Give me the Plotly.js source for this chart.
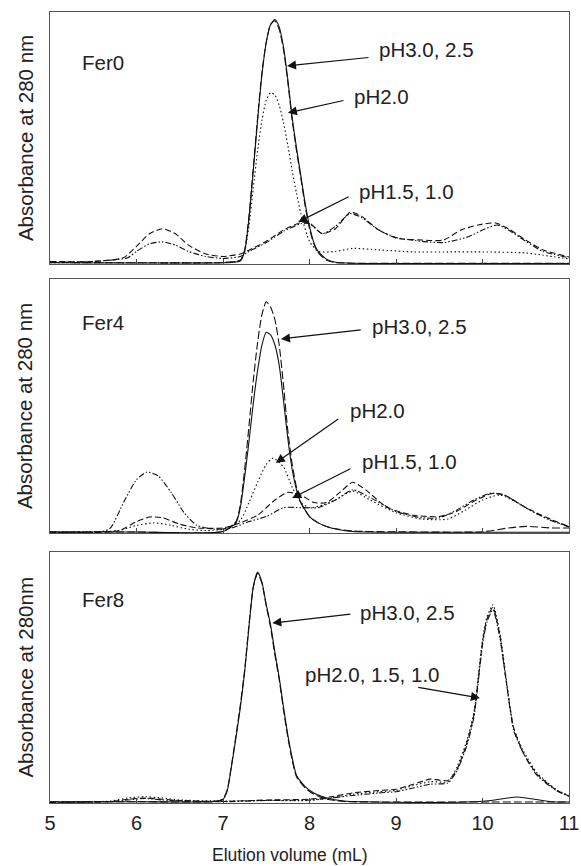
<!DOCTYPE html>
<html>
<head>
<meta charset="utf-8">
<script src="https://cdn.plot.ly/plotly-3.0.1.min.js"></script>
<style>html,body{margin:0;padding:0;background:#fff;}#chart{width:581px;height:866px;}</style>
</head>
<body>
<div id="chart"></div>
<script>
// ---------- Data (elution volume mL, relative absorbance) ----------
// Fer0
const f0_ph30_x = [5.0, 6.0, 7.0, 7.2, 7.25, 7.3, 7.35, 7.4, 7.45, 7.5, 7.55, 7.6, 7.65, 7.7, 7.75, 7.8, 7.85, 7.9, 7.95, 8.0, 8.05, 8.1, 8.2, 8.3, 8.5, 9.0, 10.0, 11.0];
const f0_ph30_y = [0.005, 0.004, 0.005, 0.012, 0.05, 0.18, 0.37, 0.57, 0.75, 0.88, 0.95, 0.97, 0.94, 0.86, 0.73, 0.58, 0.46, 0.35, 0.24, 0.15, 0.085, 0.05, 0.018, 0.007, 0.003, 0.002, 0.002, 0.002];
const f0_ph25_y = [0.006, 0.005, 0.006, 0.015, 0.055, 0.19, 0.38, 0.58, 0.76, 0.88, 0.95, 0.965, 0.93, 0.85, 0.72, 0.57, 0.45, 0.34, 0.23, 0.14, 0.08, 0.045, 0.015, 0.006, 0.003, 0.003, 0.003, 0.003];
const f0_ph20_x = [5.0, 6.0, 7.0, 7.2, 7.25, 7.3, 7.35, 7.4, 7.45, 7.5, 7.55, 7.6, 7.65, 7.7, 7.75, 7.8, 7.85, 7.9, 8.0, 8.1, 8.3, 8.5, 8.8, 9.2, 9.6, 10.0, 10.5, 10.7, 11.0];
const f0_ph20_y = [0.005, 0.005, 0.006, 0.015, 0.05, 0.15, 0.3, 0.45, 0.57, 0.65, 0.68, 0.67, 0.63, 0.56, 0.47, 0.37, 0.28, 0.2, 0.09, 0.05, 0.05, 0.062, 0.056, 0.048, 0.048, 0.048, 0.044, 0.035, 0.02];
const f0_ph15_x = [5.0, 5.5, 5.85, 6.0, 6.15, 6.3, 6.45, 6.6, 6.8, 7.0, 7.2, 7.3, 7.5, 7.7, 7.9, 8.0, 8.15, 8.3, 8.47, 8.6, 8.8, 9.0, 9.3, 9.55, 9.75, 9.95, 10.15, 10.3, 10.5, 10.7, 11.0];
const f0_ph15_y = [0.01, 0.01, 0.025, 0.07, 0.12, 0.14, 0.12, 0.075, 0.04, 0.03, 0.04, 0.055, 0.09, 0.135, 0.165, 0.163, 0.12, 0.14, 0.206, 0.19, 0.135, 0.103, 0.095, 0.095, 0.135, 0.155, 0.163, 0.14, 0.095, 0.056, 0.028];
const f0_ph10_x = [5.0, 5.5, 5.9, 6.0, 6.15, 6.3, 6.45, 6.6, 6.8, 7.0, 7.2, 7.3, 7.5, 7.7, 7.9, 8.0, 8.15, 8.3, 8.47, 8.6, 8.8, 9.0, 9.3, 9.55, 9.7, 9.85, 10.0, 10.17, 10.3, 10.5, 10.7, 11.0];
const f0_ph10_y = [0.008, 0.01, 0.025, 0.05, 0.08, 0.088, 0.075, 0.05, 0.03, 0.022, 0.03, 0.05, 0.085, 0.13, 0.16, 0.16, 0.12, 0.15, 0.2, 0.185, 0.135, 0.105, 0.09, 0.085, 0.095, 0.11, 0.135, 0.155, 0.135, 0.09, 0.05, 0.025];

// Fer4
const f4_ph30_x = [5.0, 6.0, 7.0, 7.15, 7.2, 7.25, 7.3, 7.35, 7.4, 7.45, 7.5, 7.55, 7.6, 7.65, 7.7, 7.75, 7.8, 7.85, 7.9, 8.0, 8.1, 8.25, 8.5, 9.0, 10.0, 11.0];
const f4_ph30_y = [0.004, 0.004, 0.006, 0.04, 0.1, 0.22, 0.36, 0.51, 0.64, 0.74, 0.79, 0.78, 0.74, 0.66, 0.52, 0.37, 0.25, 0.17, 0.12, 0.065, 0.04, 0.02, 0.006, 0.003, 0.003, 0.003];
const f4_ph25_x = [5.0, 6.0, 7.0, 7.15, 7.2, 7.25, 7.3, 7.35, 7.4, 7.45, 7.5, 7.55, 7.6, 7.65, 7.7, 7.75, 7.8, 7.85, 7.9, 8.0, 8.1, 8.25, 8.5, 9.0, 10.0, 10.3, 10.5, 10.8, 11.0];
const f4_ph25_y = [0.004, 0.004, 0.006, 0.045, 0.11, 0.25, 0.42, 0.6, 0.75, 0.86, 0.91, 0.89, 0.84, 0.74, 0.58, 0.4, 0.27, 0.18, 0.12, 0.065, 0.04, 0.02, 0.008, 0.005, 0.005, 0.02, 0.026, 0.02, 0.02];
const f4_ph20_x = [5.0, 5.8, 6.0, 6.2, 6.4, 6.6, 6.8, 7.0, 7.2, 7.3, 7.4, 7.5, 7.58, 7.7, 7.8, 7.9, 8.0, 8.15, 8.3, 8.5, 8.7, 9.0, 9.3, 9.6, 9.8, 10.0, 10.2, 10.4, 10.6, 10.8, 11.0];
const f4_ph20_y = [0.004, 0.01, 0.03, 0.04, 0.03, 0.015, 0.01, 0.015, 0.05, 0.12, 0.2, 0.27, 0.295, 0.26, 0.18, 0.12, 0.1, 0.11, 0.13, 0.165, 0.13, 0.08, 0.055, 0.055, 0.09, 0.13, 0.15, 0.12, 0.08, 0.05, 0.025];
const f4_ph15_x = [5.0, 5.8, 6.0, 6.15, 6.3, 6.5, 6.7, 7.0, 7.2, 7.4, 7.6, 7.75, 7.9, 8.05, 8.2, 8.35, 8.5, 8.65, 8.9, 9.2, 9.5, 9.7, 9.9, 10.1, 10.25, 10.5, 10.75, 11.0];
const f4_ph15_y = [0.003, 0.01, 0.045, 0.063, 0.06, 0.035, 0.02, 0.02, 0.04, 0.07, 0.13, 0.16, 0.15, 0.12, 0.12, 0.16, 0.2, 0.17, 0.1, 0.07, 0.065, 0.085, 0.125, 0.155, 0.15, 0.1, 0.06, 0.025];
const f4_ph10_x = [5.0, 5.6, 5.7, 5.85, 6.0, 6.12, 6.25, 6.4, 6.55, 6.7, 6.9, 7.1, 7.3, 7.5, 7.7, 7.9, 8.1, 8.3, 8.5, 8.7, 9.0, 9.3, 9.5, 9.7, 9.9, 10.1, 10.25, 10.5, 10.75, 11.0];
const f4_ph10_y = [0.003, 0.005, 0.02, 0.12, 0.21, 0.24, 0.225, 0.16, 0.08, 0.03, 0.015, 0.02, 0.045, 0.065, 0.1, 0.1, 0.1, 0.13, 0.17, 0.14, 0.085, 0.06, 0.06, 0.09, 0.13, 0.157, 0.15, 0.1, 0.055, 0.024];

// Fer8
const f8_ph30_x = [5.0, 6.0, 6.9, 7.0, 7.05, 7.1, 7.15, 7.2, 7.25, 7.3, 7.35, 7.4, 7.45, 7.5, 7.55, 7.6, 7.65, 7.7, 7.75, 7.8, 7.85, 7.95, 8.05, 8.2, 8.4, 9.0, 9.8, 10.1, 10.4, 10.6, 10.8, 11.0];
const f8_ph30_y = [0.004, 0.005, 0.006, 0.015, 0.05, 0.15, 0.26, 0.38, 0.52, 0.7, 0.86, 0.92, 0.88, 0.79, 0.71, 0.6, 0.5, 0.38, 0.27, 0.18, 0.11, 0.065, 0.04, 0.02, 0.008, 0.003, 0.004, 0.01, 0.024, 0.015, 0.005, 0.004];
const f8_ph25_y = [0.005, 0.005, 0.006, 0.016, 0.055, 0.155, 0.27, 0.39, 0.53, 0.71, 0.86, 0.915, 0.875, 0.785, 0.7, 0.59, 0.49, 0.37, 0.26, 0.17, 0.105, 0.06, 0.035, 0.015, 0.006, 0.004, 0.004, 0.004, 0.004, 0.004, 0.004, 0.004];
const f8_acid_x = [5.0, 5.7, 5.9, 6.1, 6.3, 6.5, 7.0, 7.5, 8.0, 8.25, 8.5, 8.8, 9.0, 9.2, 9.4, 9.6, 9.7, 9.82, 9.9, 9.95, 10.0, 10.05, 10.12, 10.2, 10.28, 10.36, 10.47, 10.63, 10.86, 11.0];
const f8_ph20_y = [0.003, 0.008, 0.02, 0.025, 0.02, 0.012, 0.008, 0.01, 0.01, 0.02, 0.035, 0.045, 0.05, 0.07, 0.085, 0.085, 0.14, 0.25, 0.36, 0.5, 0.65, 0.74, 0.79, 0.68, 0.48, 0.3, 0.21, 0.12, 0.052, 0.03];
const f8_ph15_y = [0.003, 0.006, 0.015, 0.02, 0.015, 0.01, 0.006, 0.012, 0.015, 0.025, 0.04, 0.05, 0.055, 0.075, 0.095, 0.09, 0.13, 0.24, 0.35, 0.49, 0.64, 0.73, 0.78, 0.67, 0.47, 0.3, 0.2, 0.115, 0.05, 0.028];
const f8_ph10_y = [0.003, 0.005, 0.012, 0.018, 0.012, 0.008, 0.005, 0.01, 0.012, 0.02, 0.03, 0.04, 0.045, 0.06, 0.075, 0.08, 0.125, 0.23, 0.34, 0.48, 0.63, 0.72, 0.77, 0.66, 0.47, 0.29, 0.2, 0.11, 0.048, 0.026];

const xTicks = [5, 6, 7, 8, 9, 10, 11];
const panelNames = ['Fer0', 'Fer4', 'Fer8'];
const yTitles = ['Absorbance at 280 nm', 'Absorbance at 280 nm', 'Absorbance at 280nm'];
const xTitle = 'Elution volume (mL)';

// ---------- Styles ----------
const DASH = {
  ph30: 'solid',
  ph25: '8px,3px',
  ph20: '1.5px,2.5px',
  ph15: '6px,3px',
  ph10: '6px,2px,1.5px,2px,1.5px,2px'
};
const FONT = 'Liberation Sans, Arial, Helvetica, sans-serif';
const TXT = 20.5;

function tr(x, y, ax, ay, dash) {
  return {x: x, y: y, xaxis: ax, yaxis: ay, type: 'scatter', mode: 'lines',
    line: {color: '#111', width: 1.1, dash: dash, shape: 'spline', smoothing: 0.6},
    hoverinfo: 'skip'};
}

const data = [
  tr(f0_ph15_x, f0_ph15_y, 'x', 'y', DASH.ph15),
  tr(f0_ph10_x, f0_ph10_y, 'x', 'y', DASH.ph10),
  tr(f0_ph20_x, f0_ph20_y, 'x', 'y', DASH.ph20),
  tr(f0_ph30_x, f0_ph25_y, 'x', 'y', DASH.ph25),
  tr(f0_ph30_x, f0_ph30_y, 'x', 'y', DASH.ph30),

  tr(f4_ph10_x, f4_ph10_y, 'x2', 'y2', DASH.ph10),
  tr(f4_ph15_x, f4_ph15_y, 'x2', 'y2', DASH.ph15),
  tr(f4_ph20_x, f4_ph20_y, 'x2', 'y2', DASH.ph20),
  tr(f4_ph25_x, f4_ph25_y, 'x2', 'y2', DASH.ph25),
  tr(f4_ph30_x, f4_ph30_y, 'x2', 'y2', DASH.ph30),

  tr(f8_acid_x, f8_ph10_y, 'x3', 'y3', DASH.ph10),
  tr(f8_acid_x, f8_ph15_y, 'x3', 'y3', DASH.ph15),
  tr(f8_acid_x, f8_ph20_y, 'x3', 'y3', DASH.ph20),
  tr(f8_ph30_x, f8_ph25_y, 'x3', 'y3', DASH.ph25),
  tr(f8_ph30_x, f8_ph30_y, 'x3', 'y3', DASH.ph30)
];

const baseX = {range: [5, 11], tickvals: xTicks, ticks: 'inside', ticklen: 5, tickcolor: '#444', tickwidth: 1,
  showline: true, mirror: true, linecolor: '#555', linewidth: 1, showgrid: false, zeroline: false};
const baseY = {range: [0, 1], showline: true, mirror: true, linecolor: '#555', linewidth: 1,
  showgrid: false, zeroline: false, showticklabels: false, ticks: ''};

const dom = [[0.6814, 1.0], [0.3413, 0.6625], [0.0, 0.3173]];

const layout = {
  width: 581, height: 866,
  margin: {l: 50, r: 12, t: 12, b: 63},
  paper_bgcolor: '#fff', plot_bgcolor: '#fff',
  showlegend: false,
  font: {family: FONT, color: '#222', size: 17},
  xaxis: Object.assign({}, baseX, {anchor: 'y', showticklabels: false}),
  yaxis: Object.assign({}, baseY, {anchor: 'x', domain: dom[0]}),
  xaxis2: Object.assign({}, baseX, {anchor: 'y2', showticklabels: false}),
  yaxis2: Object.assign({}, baseY, {anchor: 'x2', domain: dom[1]}),
  xaxis3: Object.assign({}, baseX, {anchor: 'y3', showticklabels: true, ticklabelstandoff: 2,
    tickfont: {family: FONT, size: 20, color: '#222'}}),
  yaxis3: Object.assign({}, baseY, {anchor: 'x3', domain: dom[2]}),
  annotations: []
};

const A = layout.annotations;
// x-axis title (placed as in the reference, slightly left of centre)
A.push({xref: 'paper', yref: 'paper', x: 0.4624, y: -0.0657, text: xTitle, showarrow: false,
  xanchor: 'center', yanchor: 'middle', borderpad: 0, font: {family: FONT, size: 17.5, color: '#222'}});

// panel labels and y titles
const axPairs = [['x', 'y'], ['x2', 'y2'], ['x3', 'y3']];
const labelY = [0.80, 0.827, 0.809];
panelNames.forEach((n, i) => {
  A.push({xref: axPairs[i][0], yref: axPairs[i][1], x: 5.35, y: labelY[i], text: n, showarrow: false,
    xanchor: 'left', yanchor: 'middle', font: {family: FONT, size: TXT, color: '#222'}});
  A.push({xref: 'paper', yref: 'paper', x: -0.048, y: (dom[i][0] + dom[i][1]) / 2, text: yTitles[i],
    textangle: -90, showarrow: false, xanchor: 'center', yanchor: 'middle',
    font: {family: FONT, size: TXT, color: '#222'}});
});

// arrows + labels: [panel, label, textX, textY, tailX, tailY, headX, headY]
const notes = [
  [0, 'pH3.0, 2.5', 8.78, 0.85, 8.70, 0.82, 7.74, 0.786],
  [0, 'pH2.0', 8.49, 0.663, 8.41, 0.65, 7.75, 0.60],
  [0, 'pH1.5, 1.0', 8.55, 0.286, 8.47, 0.27, 7.87, 0.167],
  [1, 'pH3.0, 2.5', 8.70, 0.811, 8.61, 0.80, 7.67, 0.764],
  [1, 'pH2.0', 8.45, 0.484, 8.35, 0.453, 7.61, 0.276],
  [1, 'pH1.5, 1.0', 8.58, 0.283, 8.49, 0.256, 7.80, 0.138],
  [2, 'pH3.0, 2.5', 8.56, 0.761, 8.49, 0.753, 7.57, 0.717],
  [2, 'pH2.0, 1.5, 1.0', 7.92, 0.51, 9.24, 0.462, 9.97, 0.418]
];
notes.forEach(n => {
  const xr = axPairs[n[0]][0], yr = axPairs[n[0]][1];
  A.push({xref: xr, yref: yr, x: n[2], y: n[3], text: n[1], showarrow: false,
    xanchor: 'left', yanchor: 'middle', font: {family: FONT, size: TXT, color: '#222'}});
  A.push({xref: xr, yref: yr, axref: xr, ayref: yr, x: n[6], y: n[7], ax: n[4], ay: n[5], text: '',
    showarrow: true, arrowhead: 2, arrowsize: 1.5, arrowwidth: 1.2, arrowcolor: '#111', standoff: 0, startstandoff: 0});
});

Plotly.newPlot('chart', data, layout, {staticPlot: true, displayModeBar: false});
</script>
</body>
</html>
